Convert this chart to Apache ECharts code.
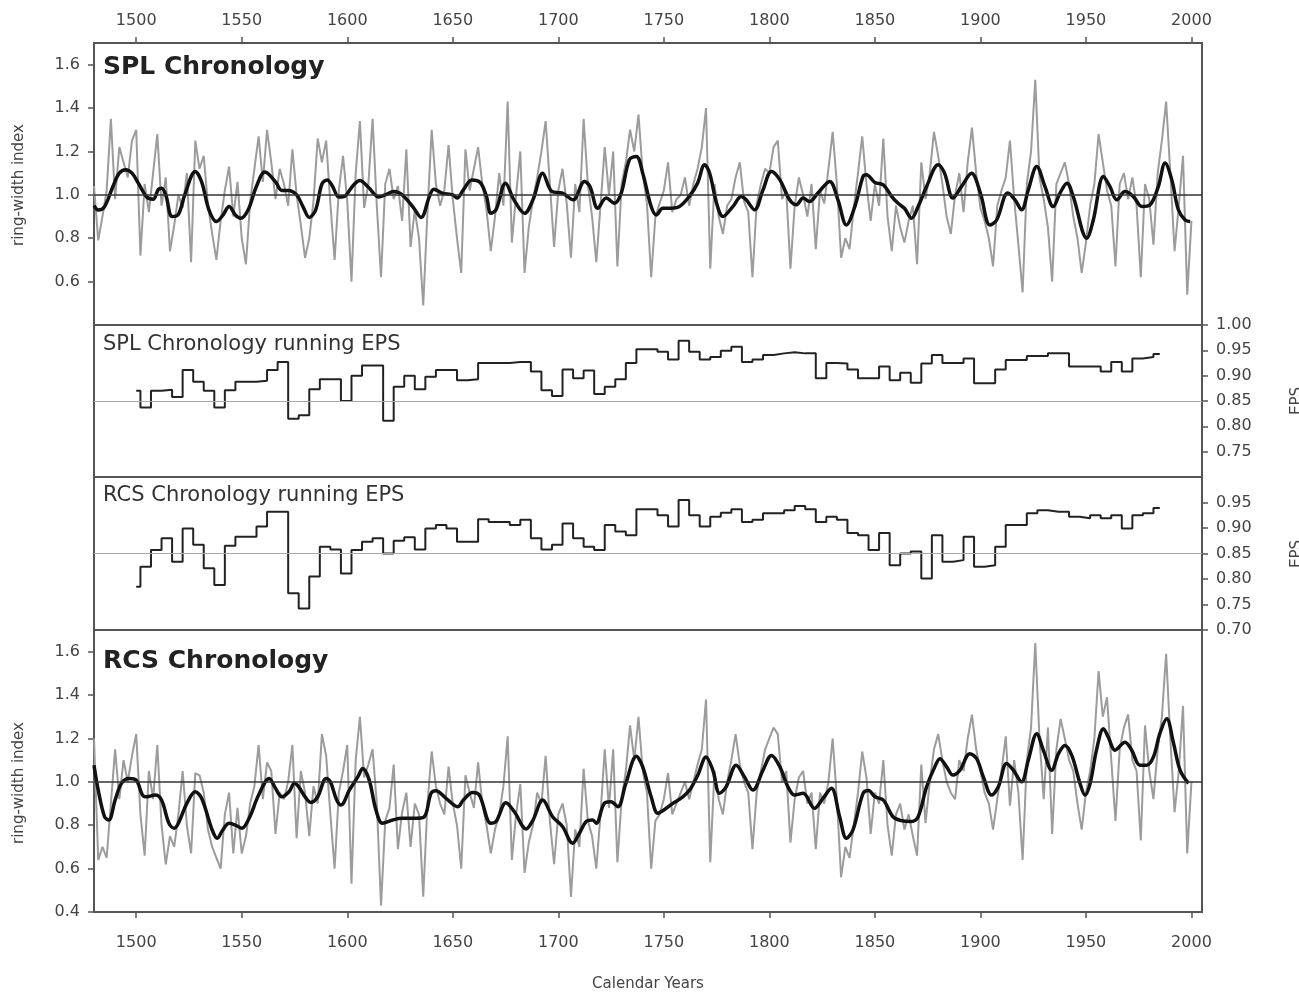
<!DOCTYPE html>
<html>
<head>
<meta charset="utf-8">
<script src="https://cdn.jsdelivr.net/npm/echarts@6/dist/echarts.min.js"></script>
<style>
  html, body { margin: 0; padding: 0; background: #fff; }
  #chron { width: 1299px; height: 992px; }
</style>
</head>
<body>
<div id="chron"></div>
<script>
// tick labels
var yearTicks = [1500, 1550, 1600, 1650, 1700, 1750, 1800, 1850, 1900, 1950, 2000];
var ringTicks = [0.6, 0.8, 1.0, 1.2, 1.4, 1.6];
var ringTicksLow = [0.4, 0.6, 0.8, 1.0, 1.2, 1.4, 1.6];
var epsTicksUp = [0.75, 0.80, 0.85, 0.90, 0.95, 1.00];
var epsTicksLow = [0.70, 0.75, 0.80, 0.85, 0.90, 0.95];

// annual index, read every 2nd year from 1480
var RAW_START = 1480, RAW_STEP = 2;
var splRaw = [
  1.04,0.79,0.90,1.02,1.35,0.98,1.22,1.15,1.08,1.25,
  1.30,0.72,1.05,0.92,1.10,1.28,0.95,1.08,0.74,0.86,
  1.00,0.94,1.10,0.69,1.25,1.12,1.18,0.95,0.82,0.70,
  0.88,1.02,1.13,0.90,1.06,0.80,0.68,0.97,1.12,1.27,
  1.06,1.30,1.15,0.98,1.12,1.05,0.95,1.21,1.00,0.86,
  0.71,0.80,0.97,1.26,1.15,1.25,0.96,0.70,1.02,1.18,
  0.97,0.60,1.10,1.34,0.94,1.05,1.35,0.95,0.62,1.05,
  1.12,0.98,1.04,0.88,1.21,0.76,0.93,0.80,0.49,0.92,
  1.30,1.05,0.95,1.02,1.23,0.98,0.80,0.64,1.21,1.02,
  1.12,1.22,1.05,0.93,0.74,0.90,1.10,0.95,1.43,0.78,
  1.00,1.20,0.64,0.85,0.98,1.08,1.20,1.34,1.05,0.76,
  1.02,1.12,0.96,0.71,1.05,0.92,1.35,1.05,0.90,0.69,
  0.95,1.22,1.00,1.20,0.67,1.05,1.15,1.30,1.20,1.37,
  1.10,0.96,0.62,0.90,0.96,1.02,1.15,0.92,0.98,1.00,
  1.08,0.95,1.05,1.12,1.22,1.40,0.66,1.05,0.90,0.82,
  0.95,0.98,1.08,1.15,0.97,0.92,0.62,0.96,1.05,1.12,
  1.10,1.22,1.25,0.98,1.02,0.66,0.95,1.08,1.00,0.90,
  1.05,0.75,1.02,0.96,1.12,1.29,1.05,0.71,0.80,0.75,
  0.94,1.10,1.27,1.05,0.88,1.05,0.95,1.26,0.90,0.74,
  0.95,0.85,0.78,0.88,0.95,0.68,1.15,0.98,1.10,1.29,
  1.18,1.05,0.90,0.82,1.00,1.10,0.92,1.15,1.31,1.10,
  0.94,0.88,0.80,0.67,0.95,1.02,1.08,1.25,0.98,0.77,
  0.55,1.05,1.20,1.53,1.08,0.98,0.85,0.60,1.05,1.10,
  1.15,1.05,0.90,0.80,0.64,0.78,0.95,1.05,1.28,1.15,
  1.02,0.95,0.67,1.05,1.10,0.98,1.08,0.95,0.62,1.05,
  0.98,0.77,1.10,1.25,1.43,1.10,0.74,0.95,1.18,0.54,
  0.88
];
var rcsRaw = [
  1.20,0.64,0.70,0.65,0.90,1.15,0.92,1.10,1.00,1.12,
  1.22,0.85,0.66,1.05,0.92,1.17,0.80,0.62,0.75,0.70,
  0.85,1.05,0.80,0.67,1.04,1.03,0.95,0.78,0.70,0.65,
  0.60,0.85,0.95,0.67,0.88,0.67,0.75,0.90,0.98,1.17,
  0.92,1.09,1.05,0.76,0.95,0.92,1.00,1.17,0.74,1.05,
  0.95,0.75,0.98,0.90,1.22,1.12,0.85,0.60,0.95,1.05,
  1.17,0.53,1.10,1.30,1.02,1.08,1.15,0.90,0.43,0.82,
  0.88,1.08,0.69,0.86,0.95,0.70,0.90,0.85,0.47,0.90,
  1.14,0.98,0.90,0.85,1.07,0.90,0.80,0.60,1.03,0.95,
  0.88,1.09,0.90,0.80,0.67,0.78,0.85,0.98,1.21,0.64,
  0.85,0.99,0.58,0.72,0.80,0.95,0.90,1.12,0.82,0.62,
  0.85,0.90,0.80,0.47,0.78,0.70,1.06,0.82,0.75,0.60,
  0.85,1.15,0.88,1.15,0.63,0.92,1.05,1.26,1.10,1.30,
  1.05,0.95,0.60,0.82,0.85,0.92,1.04,0.85,0.90,0.95,
  1.00,0.92,1.00,1.08,1.15,1.38,0.63,1.05,0.92,0.85,
  1.00,1.10,1.22,1.08,1.00,0.95,0.69,0.95,1.05,1.15,
  1.20,1.25,1.22,1.00,1.05,0.72,0.92,1.02,1.05,0.90,
  0.95,0.69,0.95,0.90,1.00,1.20,0.92,0.56,0.70,0.65,
  0.80,0.95,1.14,1.02,0.76,0.95,0.90,1.10,0.80,0.66,
  0.85,0.90,0.78,0.85,0.75,0.66,1.08,0.81,1.00,1.15,
  1.22,1.10,1.00,0.95,0.92,1.10,1.05,1.20,1.31,1.15,
  1.05,0.95,0.90,0.78,0.92,1.05,1.21,0.89,1.10,0.95,
  0.64,1.10,1.25,1.64,1.20,0.92,1.25,0.76,1.15,1.29,
  1.20,1.10,1.05,0.90,0.78,0.95,1.05,1.20,1.51,1.30,
  1.39,1.10,0.82,1.15,1.25,1.31,1.10,1.05,0.73,1.26,
  1.05,0.92,1.15,1.30,1.59,1.20,0.86,1.05,1.35,0.67,
  1.00
];

// smoothed curves, [year, index]
var splSmooth = [
  [1480,0.95],[1482,0.93],[1485,0.946],[1489,1.04],[1492,1.10],[1495,1.116],[1498,1.10],[1501,1.054],
  [1505,0.99],[1508,0.98],[1510.5,1.025],[1512,1.03],[1514,1.0],[1517,0.90],[1520,0.91],[1523,1.0],
  [1528,1.108],[1531,1.06],[1534.5,0.93],[1538,0.877],[1541,0.905],[1544,0.946],[1547,0.907],[1549.5,0.892],
  [1553,0.93],[1557,1.04],[1561,1.105],[1566,1.06],[1569,1.02],[1572,1.02],[1576,1.0],[1579,0.946],
  [1582,0.896],[1585,0.93],[1588,1.05],[1590.5,1.069],[1593,1.04],[1596,0.99],[1599,0.995],[1602.5,1.04],
  [1606,1.066],[1610,1.035],[1615,0.99],[1618,1.0],[1622,1.015],[1626,1.0],[1631,0.946],[1635,0.896],
  [1639,0.995],[1641,1.026],[1645,1.008],[1650,1.0],[1652,0.985],[1655,1.023],[1659,1.069],[1663,1.057],
  [1666,0.992],[1668,0.915],[1670.5,0.931],[1675,1.054],[1679,0.977],[1684,0.915],[1688,0.977],[1692.6,1.10],
  [1697,1.015],[1702,1.008],[1707,0.977],[1712.4,1.062],[1715,1.038],[1718.7,0.938],[1722.7,0.985],[1726.6,0.961],
  [1729.8,1.008],[1733.7,1.162],[1737,1.177],[1740,1.10],[1744,0.946],[1746.4,0.907],[1749.5,0.938],[1753,0.938],
  [1757.4,0.946],[1762,0.992],[1766,1.054],[1769.3,1.139],[1771.7,1.10],[1775,0.961],[1778,0.90],[1782.7,0.946],
  [1786.7,0.992],[1789,0.977],[1793,0.931],[1797,1.023],[1801,1.108],[1805,1.069],[1809.6,0.977],[1812.8,0.954],
  [1816,0.985],[1819,0.969],[1823,1.008],[1828.6,1.062],[1832.5,0.977],[1836.5,0.861],[1840.5,0.946],[1844.4,1.085],
  [1846,1.093],[1850,1.057],[1854,1.046],[1858,0.992],[1861,0.961],[1864,0.938],[1867.4,0.892],[1870.5,0.946],
  [1874.5,1.038],[1880,1.139],[1883,1.10],[1887,0.985],[1891,1.038],[1895.8,1.10],[1900,1.008],[1904.5,0.861],
  [1907.7,0.884],[1913,1.008],[1916.4,0.977],[1919.5,0.931],[1922.7,1.023],[1926.7,1.131],[1930.6,1.038],[1934.5,0.946],
  [1937.7,1.008],[1941,1.054],[1944,0.992],[1950.4,0.80],[1953.5,0.884],[1958.3,1.085],[1961.4,1.038],[1964.6,0.977],
  [1968.5,1.015],[1972.5,0.992],[1976.5,0.946],[1980.4,0.954],[1984.3,1.038],[1987.5,1.147],[1990.7,1.069],[1993.8,0.931],
  [1997,0.884],[1999.4,0.877]
];
var rcsSmooth = [
  [1480,1.077],[1482,0.962],[1485,0.839],[1487,0.824],[1490,0.916],[1493,0.993],[1496.5,1.016],[1500,1.008],
  [1503,0.939],[1505,0.931],[1509,0.939],[1512,0.916],[1515.5,0.809],[1518,0.786],[1520,0.809],[1524,0.901],
  [1528,0.954],[1531,0.924],[1536,0.778],[1538.4,0.74],[1541,0.778],[1544,0.809],[1547,0.801],[1550,0.786],
  [1553.5,0.832],[1558,0.939],[1563,1.016],[1566,0.97],[1569,0.931],[1572.4,0.954],[1575,0.993],[1577,0.977],
  [1580,0.931],[1582.7,0.905],[1586,0.931],[1590,1.016],[1592,1.0],[1595,0.916],[1597,0.893],[1601,0.962],
  [1605,1.023],[1607.3,1.061],[1610.4,1.008],[1613.6,0.870],[1616.7,0.809],[1621.5,0.824],[1626,0.832],[1632.6,0.832],
  [1636.5,0.839],[1639.7,0.947],[1642,0.959],[1646.8,0.924],[1652.3,0.885],[1655,0.916],[1659.4,0.951],[1662.6,0.939],
  [1668,0.809],[1670.5,0.817],[1675.2,0.904],[1679.2,0.862],[1684.7,0.783],[1688,0.824],[1692.6,0.916],[1697.3,0.839],
  [1702,0.794],[1706.8,0.717],[1710,0.763],[1713.2,0.817],[1716.3,0.824],[1718,0.809],[1721.8,0.901],[1725,0.908],
  [1728.2,0.885],[1732,0.993],[1737,1.118],[1740,1.069],[1744,0.931],[1747.2,0.855],[1750,0.870],[1754.3,0.901],
  [1759,0.931],[1762.2,0.962],[1766.1,1.031],[1770,1.115],[1773.2,1.054],[1776.4,0.947],[1779.5,0.977],[1784.3,1.077],
  [1788.2,1.023],[1792.2,0.962],[1797,1.054],[1801,1.122],[1805,1.069],[1808.8,0.977],[1812,0.939],[1816,0.947],
  [1821.4,0.878],[1825.4,0.924],[1829.4,0.970],[1833.3,0.839],[1836.5,0.740],[1839.6,0.778],[1844.4,0.947],[1847,0.96],
  [1850,0.931],[1854,0.916],[1858.6,0.839],[1862.6,0.821],[1867.4,0.817],[1870.5,0.839],[1874.5,0.977],[1878.4,1.069],
  [1880.8,1.107],[1884,1.069],[1887,1.031],[1890.3,1.054],[1895,1.130],[1898.2,1.107],[1901.4,1.023],[1905.3,0.939],
  [1908.5,0.977],[1912.4,1.085],[1915.6,1.054],[1919.5,1.0],[1922.7,1.100],[1926.7,1.222],[1929.8,1.146],[1933.8,1.054],
  [1937,1.130],[1940,1.168],[1943.3,1.122],[1947.2,0.993],[1949.6,0.939],[1952,0.993],[1955,1.146],[1958.3,1.245],
  [1960.6,1.206],[1963.8,1.146],[1968.5,1.183],[1971.7,1.146],[1975.6,1.077],[1978.8,1.077],[1982,1.115],[1985,1.222],
  [1988.3,1.291],[1991.4,1.183],[1994.6,1.054],[1998.6,0.993]
];

// running EPS, one value per 5-yr step (first step starts 1500, then 1502, 1507, ...), last step ends 1985
var EPS_END = 1985;
var epsSpl = [
  0.870,0.837,0.870,0.872,0.858,0.911,0.888,0.870,0.837,0.871,
  0.888,0.888,0.890,0.911,0.927,0.815,0.822,0.873,0.893,0.893,
  0.850,0.900,0.920,0.920,0.811,0.878,0.900,0.873,0.898,0.911,
  0.911,0.891,0.893,0.925,0.925,0.925,0.927,0.927,0.908,0.871,
  0.860,0.912,0.895,0.910,0.864,0.878,0.893,0.925,0.952,0.952,
  0.947,0.932,0.969,0.947,0.932,0.937,0.949,0.957,0.927,0.932,
  0.941,0.944,0.946,0.944,0.944,0.895,0.925,0.924,0.912,0.895,
  0.895,0.918,0.891,0.906,0.886,0.924,0.941,0.925,0.925,0.934,
  0.885,0.885,0.912,0.931,0.931,0.939,0.939,0.944,0.944,0.918,
  0.918,0.918,0.908,0.927,0.908,0.934,0.937,0.943
];
var epsRcs = [
  0.785,0.824,0.857,0.880,0.834,0.899,0.867,0.821,0.788,0.865,
  0.883,0.883,0.903,0.932,0.932,0.772,0.742,0.805,0.863,0.858,
  0.811,0.857,0.873,0.880,0.850,0.875,0.882,0.858,0.899,0.906,
  0.899,0.873,0.873,0.917,0.912,0.912,0.906,0.916,0.880,0.858,
  0.867,0.909,0.880,0.863,0.857,0.906,0.893,0.886,0.937,0.937,
  0.925,0.903,0.955,0.925,0.903,0.922,0.930,0.937,0.912,0.916,
  0.929,0.929,0.935,0.943,0.937,0.912,0.922,0.916,0.890,0.886,
  0.857,0.890,0.827,0.850,0.854,0.801,0.886,0.834,0.837,0.883,
  0.824,0.827,0.863,0.906,0.906,0.929,0.935,0.932,0.932,0.922,
  0.919,0.925,0.919,0.925,0.899,0.925,0.929,0.939
];

function rawPairs(vals) {
  return vals.map(function (v, i) { return [RAW_START + RAW_STEP * i, v]; });
}
function epsPairs(vals) {
  var out = vals.map(function (v, i) { return [i === 0 ? 1500 : 1497 + 5 * i, v]; });
  out.push([EPS_END, vals[vals.length - 1]]);
  return out;
}

var FONT = 'DejaVu Sans';
var labelStyle = { color: '#444', fontSize: 16, fontFamily: FONT };
var tickStyle = { show: true, length: 6, lineStyle: { color: '#555', width: 1.5 } };
var XMIN = 1480, XMAX = 2005;

function xAxisFor(idx, pos, showLabels) {
  return {
    type: 'value', gridIndex: idx, min: XMIN, max: XMAX, position: pos,
    show: showLabels,
    splitLine: { show: false },
    axisLine: { show: false },
    axisTick: Object.assign({ customValues: yearTicks }, tickStyle),
    axisLabel: Object.assign({
      customValues: yearTicks, margin: pos === 'top' ? 14 : 23,
      formatter: function (v) { return String(v); }
    }, labelStyle)
  };
}
function yAxisFor(idx, pos, min, max, step, labels, digits) {
  return {
    type: 'value', gridIndex: idx, position: pos, min: min, max: max, interval: step,
    splitLine: { show: false },
    axisLine: { show: false },
    axisTick: Object.assign({ customValues: labels }, tickStyle),
    axisLabel: Object.assign({
      customValues: labels, margin: 14,
      formatter: function (v) { return v.toFixed(digits); }
    }, labelStyle)
  };
}

var gridBox = { show: true, borderColor: '#555', borderWidth: 2, left: 94, right: 97 };

var chronChart = echarts.init(document.getElementById('chron'), null, { renderer: 'canvas' });

var chronOption = {
  animation: false,
  backgroundColor: '#fff',
  grid: [
    Object.assign({ top: 43, height: 282 }, gridBox),
    Object.assign({ top: 325, height: 152 }, gridBox),
    Object.assign({ top: 477, height: 153 }, gridBox),
    Object.assign({ top: 630, height: 282 }, gridBox)
  ],
  xAxis: [
    xAxisFor(0, 'top', true),
    xAxisFor(1, 'bottom', false),
    xAxisFor(2, 'bottom', false),
    xAxisFor(3, 'bottom', true)
  ],
  yAxis: [
    yAxisFor(0, 'left', 0.4, 1.7, 0.2, ringTicks, 1),
    yAxisFor(1, 'right', 0.70, 1.00, 0.05, epsTicksUp, 2),
    yAxisFor(2, 'right', 0.70, 1.00, 0.05, epsTicksLow, 2),
    yAxisFor(3, 'left', 0.4, 1.7, 0.2, ringTicksLow, 1)
  ],
  graphic: [
    { type: 'text', x: 103, y: 67, style: { text: 'SPL Chronology', fill: '#222', font: 'bold 25px "DejaVu Sans"', textVerticalAlign: 'middle' } },
    { type: 'text', x: 103, y: 345, style: { text: 'SPL Chronology running EPS', fill: '#333', font: '21px "DejaVu Sans"', textVerticalAlign: 'middle' } },
    { type: 'text', x: 103, y: 496, style: { text: 'RCS Chronology running EPS', fill: '#333', font: '21px "DejaVu Sans"', textVerticalAlign: 'middle' } },
    { type: 'text', x: 103, y: 661, style: { text: 'RCS Chronology', fill: '#222', font: 'bold 25px "DejaVu Sans"', textVerticalAlign: 'middle' } },
    { type: 'text', x: 19, y: 185, rotation: Math.PI / 2, style: { text: 'ring-width index', fill: '#444', font: '15px "DejaVu Sans"', textAlign: 'center', textVerticalAlign: 'middle' } },
    { type: 'text', x: 19, y: 783, rotation: Math.PI / 2, style: { text: 'ring-width index', fill: '#444', font: '15px "DejaVu Sans"', textAlign: 'center', textVerticalAlign: 'middle' } },
    { type: 'text', x: 1297, y: 401, rotation: Math.PI / 2, style: { text: 'EPS', fill: '#444', font: '15px "DejaVu Sans"', textAlign: 'center', textVerticalAlign: 'middle' } },
    { type: 'text', x: 1297, y: 554, rotation: Math.PI / 2, style: { text: 'EPS', fill: '#444', font: '15px "DejaVu Sans"', textAlign: 'center', textVerticalAlign: 'middle' } },
    { type: 'text', x: 648, y: 984, style: { text: 'Calendar Years', fill: '#444', font: '15px "DejaVu Sans"', textAlign: 'center', textVerticalAlign: 'middle' } }
  ],
  series: [
    {
      name: 'SPL annual', type: 'line', xAxisIndex: 0, yAxisIndex: 0,
      data: rawPairs(splRaw), showSymbol: false, z: 2,
      lineStyle: { color: '#9c9c9c', width: 2 }
    },
    {
      name: 'SPL smooth', type: 'line', xAxisIndex: 0, yAxisIndex: 0,
      data: splSmooth, showSymbol: false, smooth: 0.35, z: 4,
      lineStyle: { color: '#111', width: 3.5 },
      markLine: {
        silent: true, symbol: 'none', label: { show: false },
        lineStyle: { color: '#333', width: 1.5, type: 'solid' },
        data: [{ yAxis: 1.0 }]
      }
    },
    {
      name: 'SPL EPS', type: 'line', xAxisIndex: 1, yAxisIndex: 1,
      data: epsPairs(epsSpl), step: 'end', showSymbol: false,
      lineStyle: { color: '#222', width: 2 },
      markLine: {
        silent: true, symbol: 'none', label: { show: false },
        lineStyle: { color: '#aaa', width: 1, type: 'solid' },
        data: [{ yAxis: 0.85 }]
      }
    },
    {
      name: 'RCS EPS', type: 'line', xAxisIndex: 2, yAxisIndex: 2,
      data: epsPairs(epsRcs), step: 'end', showSymbol: false,
      lineStyle: { color: '#222', width: 2 },
      markLine: {
        silent: true, symbol: 'none', label: { show: false },
        lineStyle: { color: '#aaa', width: 1, type: 'solid' },
        data: [{ yAxis: 0.85 }]
      }
    },
    {
      name: 'RCS annual', type: 'line', xAxisIndex: 3, yAxisIndex: 3,
      data: rawPairs(rcsRaw), showSymbol: false, z: 2,
      lineStyle: { color: '#9c9c9c', width: 2 }
    },
    {
      name: 'RCS smooth', type: 'line', xAxisIndex: 3, yAxisIndex: 3,
      data: rcsSmooth, showSymbol: false, smooth: 0.35, z: 4,
      lineStyle: { color: '#111', width: 3.5 },
      markLine: {
        silent: true, symbol: 'none', label: { show: false },
        lineStyle: { color: '#333', width: 1.5, type: 'solid' },
        data: [{ yAxis: 1.0 }]
      }
    }
  ]
};

chronChart.setOption(chronOption);
</script>
</body>
</html>
